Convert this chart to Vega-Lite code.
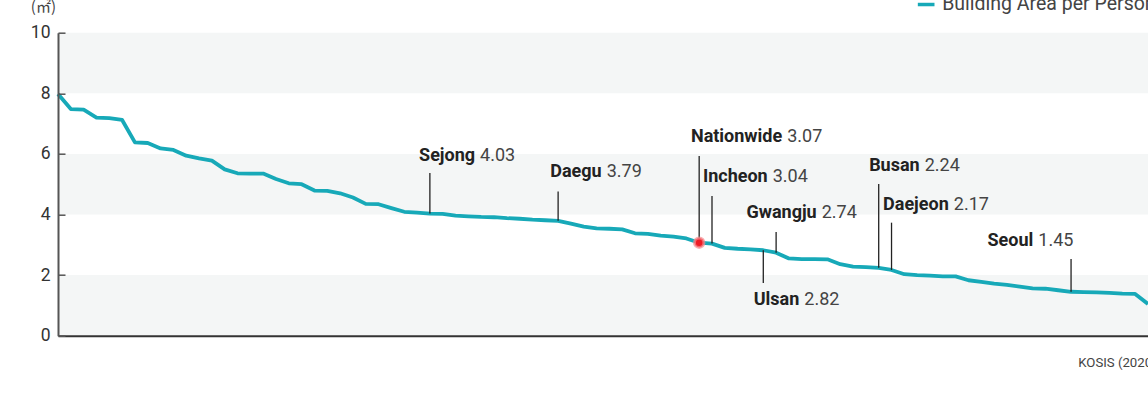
{
  "$schema": "https://vega.github.io/schema/vega-lite/v6.json",
  "width": 1090,
  "height": 303,
  "autosize": {"type": "none"},
  "padding": {"left": 58, "top": 32.7, "right": 0, "bottom": 64.3},
  "background": "white",
  "config": {"view": {"stroke": null}, "font": "Roboto"},
  "datasets": {
    "series": [
      {"idx": 0, "value": 7.98}, {"idx": 1, "value": 7.48}, {"idx": 2, "value": 7.46}, {"idx": 3, "value": 7.2},
      {"idx": 4, "value": 7.18}, {"idx": 5, "value": 7.12}, {"idx": 6, "value": 6.38}, {"idx": 7, "value": 6.36},
      {"idx": 8, "value": 6.18}, {"idx": 9, "value": 6.13}, {"idx": 10, "value": 5.94}, {"idx": 11, "value": 5.85},
      {"idx": 12, "value": 5.78}, {"idx": 13, "value": 5.49}, {"idx": 14, "value": 5.36}, {"idx": 15, "value": 5.35},
      {"idx": 16, "value": 5.35}, {"idx": 17, "value": 5.17}, {"idx": 18, "value": 5.03}, {"idx": 19, "value": 5.0},
      {"idx": 20, "value": 4.79}, {"idx": 21, "value": 4.78}, {"idx": 22, "value": 4.7}, {"idx": 23, "value": 4.56},
      {"idx": 24, "value": 4.35}, {"idx": 25, "value": 4.34}, {"idx": 26, "value": 4.21}, {"idx": 27, "value": 4.09},
      {"idx": 28, "value": 4.06}, {"idx": 29, "value": 4.03}, {"idx": 30, "value": 4.02}, {"idx": 31, "value": 3.96},
      {"idx": 32, "value": 3.94}, {"idx": 33, "value": 3.92}, {"idx": 34, "value": 3.91}, {"idx": 35, "value": 3.88},
      {"idx": 36, "value": 3.86}, {"idx": 37, "value": 3.83}, {"idx": 38, "value": 3.81}, {"idx": 39, "value": 3.79},
      {"idx": 40, "value": 3.7}, {"idx": 41, "value": 3.6}, {"idx": 42, "value": 3.54}, {"idx": 43, "value": 3.53},
      {"idx": 44, "value": 3.51}, {"idx": 45, "value": 3.38}, {"idx": 46, "value": 3.36}, {"idx": 47, "value": 3.3},
      {"idx": 48, "value": 3.27}, {"idx": 49, "value": 3.21}, {"idx": 50, "value": 3.07}, {"idx": 51, "value": 3.04},
      {"idx": 52, "value": 2.9}, {"idx": 53, "value": 2.87}, {"idx": 54, "value": 2.85}, {"idx": 55, "value": 2.82},
      {"idx": 56, "value": 2.74}, {"idx": 57, "value": 2.55}, {"idx": 58, "value": 2.53}, {"idx": 59, "value": 2.53},
      {"idx": 60, "value": 2.52}, {"idx": 61, "value": 2.36}, {"idx": 62, "value": 2.28}, {"idx": 63, "value": 2.26},
      {"idx": 64, "value": 2.24}, {"idx": 65, "value": 2.17}, {"idx": 66, "value": 2.03}, {"idx": 67, "value": 2.0},
      {"idx": 68, "value": 1.98}, {"idx": 69, "value": 1.96}, {"idx": 70, "value": 1.96}, {"idx": 71, "value": 1.83},
      {"idx": 72, "value": 1.78}, {"idx": 73, "value": 1.72}, {"idx": 74, "value": 1.68}, {"idx": 75, "value": 1.62},
      {"idx": 76, "value": 1.56}, {"idx": 77, "value": 1.55}, {"idx": 78, "value": 1.5}, {"idx": 79, "value": 1.45},
      {"idx": 80, "value": 1.44}, {"idx": 81, "value": 1.43}, {"idx": 82, "value": 1.41}, {"idx": 83, "value": 1.39},
      {"idx": 84, "value": 1.38}, {"idx": 85, "value": 1.05}
    ],
    "bands": [
      {"lo": 0, "hi": 2}, {"lo": 4, "hi": 6}, {"lo": 8, "hi": 10}
    ],
    "notes": [
      {"name": "Sejong", "label": "4.03", "idx": 29, "value": 4.03, "lead": 5.37, "labelX": 32.72, "labelY": 5.94},
      {"name": "Daegu", "label": "3.79", "idx": 39, "value": 3.79, "lead": 4.76, "labelX": 42.59, "labelY": 5.39},
      {"name": "Nationwide", "label": "3.07", "idx": 50, "value": 3.07, "lead": 5.93, "labelX": 56.67, "labelY": 6.57},
      {"name": "Incheon", "label": "3.04", "idx": 51, "value": 3.04, "lead": 4.61, "labelX": 55.54, "labelY": 5.23},
      {"name": "Gwangju", "label": "2.74", "idx": 56, "value": 2.74, "lead": 3.42, "labelX": 59.36, "labelY": 4.05},
      {"name": "Ulsan", "label": "2.82", "idx": 55, "value": 2.82, "lead": 1.74, "labelX": 58.0, "labelY": 1.18},
      {"name": "Busan", "label": "2.24", "idx": 64, "value": 2.24, "lead": 5.01, "labelX": 67.39, "labelY": 5.61},
      {"name": "Daejeon", "label": "2.17", "idx": 65, "value": 2.17, "lead": 3.73, "labelX": 69.66, "labelY": 4.31},
      {"name": "Seoul", "label": "1.45", "idx": 79, "value": 1.45, "lead": 2.53, "labelX": 76.25, "labelY": 3.14}
    ]
  },
  "layer": [
    {
      "data": {"name": "bands"},
      "mark": {"type": "rect", "color": "#f4f6f6"},
      "encoding": {
        "x": {"datum": 0, "type": "quantitative", "scale": {"domain": [0, 85], "nice": false, "zero": false},
          "axis": {"labels": false, "ticks": false, "title": null, "grid": false, "domainColor": "#333", "domainWidth": 2, "zindex": 1}},
        "x2": {"datum": 85},
        "y": {"field": "lo", "type": "quantitative", "scale": {"domain": [0, 10], "nice": false, "zero": false},
          "axis": {"values": [0, 2, 4, 6, 8, 10], "title": null, "grid": false, "domainColor": "#555", "domainWidth": 2,
            "tickColor": "#555", "tickSize": -7, "tickWidth": 1.5, "labelFont": "Roboto", "labelFontSize": 17.5,
            "labelColor": "#333", "labelPadding": 15, "labelFlush": false, "zindex": 1}},
        "y2": {"field": "hi"}
      }
    },
    {
      "data": {"name": "series"},
      "mark": {"type": "line", "color": "#17a9b8", "strokeWidth": 3.8, "strokeJoin": "round"},
      "encoding": {
        "x": {"field": "idx", "type": "quantitative"},
        "y": {"field": "value", "type": "quantitative"}
      }
    },
    {
      "data": {"name": "notes"},
      "mark": {"type": "rule", "color": "#222", "strokeWidth": 1.3},
      "encoding": {
        "x": {"field": "idx", "type": "quantitative"},
        "y": {"field": "value", "type": "quantitative"},
        "y2": {"field": "lead"}
      }
    },
    {
      "data": {"name": "notes"},
      "transform": [{"filter": "datum.name === 'Nationwide'"}],
      "mark": {"type": "point", "filled": true, "fill": "#ee1c25", "stroke": "#f58a8f", "strokeOpacity": 0.7, "strokeWidth": 3, "size": 90, "opacity": 1},
      "encoding": {
        "x": {"field": "idx", "type": "quantitative"},
        "y": {"field": "value", "type": "quantitative"}
      }
    },
    {
      "data": {"name": "notes"},
      "mark": {"type": "text", "align": "right", "baseline": "middle", "dx": -2.5, "font": "Roboto", "fontSize": 18, "fontWeight": "bold", "color": "#222"},
      "encoding": {
        "x": {"field": "labelX", "type": "quantitative"},
        "y": {"field": "labelY", "type": "quantitative"},
        "text": {"field": "name"}
      }
    },
    {
      "data": {"name": "notes"},
      "mark": {"type": "text", "align": "left", "baseline": "middle", "dx": 2.5, "font": "Roboto", "fontSize": 18, "color": "#444"},
      "encoding": {
        "x": {"field": "labelX", "type": "quantitative"},
        "y": {"field": "labelY", "type": "quantitative"},
        "text": {"field": "label"}
      }
    },
    {
      "data": {"values": [{"series": "Building Area per Person"}]},
      "mark": {"type": "rule", "color": "#17a9b8", "strokeWidth": 3.5},
      "encoding": {
        "x": {"datum": 67.05, "type": "quantitative"},
        "x2": {"datum": 68.35},
        "y": {"datum": 10.93, "type": "quantitative"}
      }
    },
    {
      "data": {"values": [{"series": "Building Area per Person"}]},
      "mark": {"type": "text", "align": "left", "baseline": "middle", "font": "Roboto", "fontSize": 19.5, "color": "#444"},
      "encoding": {
        "x": {"datum": 68.95, "type": "quantitative"},
        "y": {"datum": 10.96, "type": "quantitative"},
        "text": {"field": "series"}
      }
    },
    {
      "data": {"values": [{"unit": "(㎡)"}]},
      "mark": {"type": "text", "align": "center", "baseline": "middle", "font": "Noto Sans CJK KR", "fontSize": 15, "color": "#444"},
      "encoding": {
        "x": {"datum": -1.14, "type": "quantitative"},
        "y": {"datum": 10.86, "type": "quantitative"},
        "text": {"field": "unit"}
      }
    },
    {
      "data": {"values": [{"source": "KOSIS (2020)"}]},
      "mark": {"type": "text", "align": "left", "baseline": "middle", "font": "Roboto", "fontSize": 13.2, "color": "#444"},
      "encoding": {
        "x": {"datum": 79.56, "type": "quantitative"},
        "y": {"datum": -0.885, "type": "quantitative"},
        "text": {"field": "source"}
      }
    }
  ]
}
